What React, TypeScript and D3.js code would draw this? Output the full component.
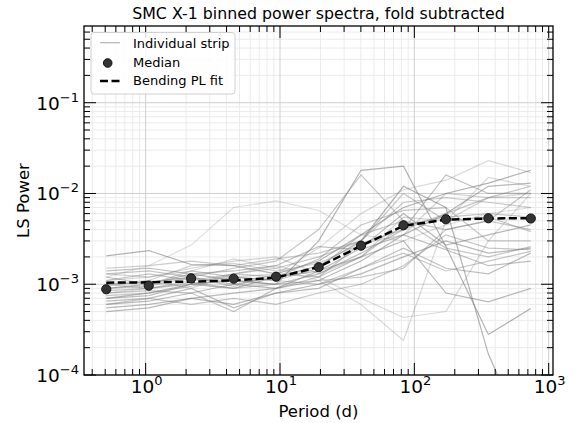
import React from "react";
import * as d3 from "d3";

const periods = [0.509, 1.054, 2.18, 4.52, 9.35, 19.4, 40.1, 83.0, 171.8, 355.6, 736];
const medianPower = [8.8e-4, 9.65e-4, 1.16e-3, 1.15e-3, 1.21e-3, 1.54e-3, 2.66e-3, 4.46e-3, 5.2e-3, 5.33e-3, 5.3e-3];
const fitPower = [1.04e-3, 1.05e-3, 1.07e-3, 1.1e-3, 1.18e-3, 1.55e-3, 2.65e-3, 4.4e-3, 5.15e-3, 5.3e-3, 5.35e-3];

const strips: number[][] = [
  [1.2e-3, 1.6e-3, 2.7e-3, 7.0e-3, 8.3e-3, 6.5e-3, 3.5e-3, 3.0e-3, 4.5e-3, 6e-3, 7e-3],
  [2.05e-3, 2.35e-3, 1.65e-3, 1.6e-3, 1.3e-3, 1.8e-3, 3.5e-3, 7e-3, 1.0e-2, 1.3e-2, 1.8e-2],
  [9e-4, 1.0e-3, 1.3e-3, 1.1e-3, 1.0e-3, 3e-3, 1.8e-2, 2.0e-2, 2.6e-3, 2.8e-4, 5.4e-4],
  [7e-4, 8e-4, 1.0e-3, 9e-4, 1.2e-3, 1.6e-3, 3e-3, 1.2e-2, 7e-3, 1.7e-4, 1.5e-5],
  [1.1e-3, 1.2e-3, 1.4e-3, 1.9e-3, 1.5e-3, 1.1e-3, 6e-4, 2.4e-4, 5e-3, 1.5e-2, 1.2e-2],
  [1.0e-3, 1.1e-3, 9e-4, 1.3e-3, 1.6e-3, 1.2e-3, 7e-4, 4.3e-4, 5e-4, 3e-3, 1.0e-2],
  [6e-4, 6.5e-4, 8e-4, 1.0e-3, 9e-4, 1.4e-3, 2e-3, 3e-3, 8e-4, 6.4e-4, 9e-4],
  [1.3e-3, 1.4e-3, 1.2e-3, 1.5e-3, 1.8e-3, 4e-3, 1.6e-2, 5e-3, 2.5e-3, 2e-3, 2.6e-3],
  [8e-4, 9e-4, 1.1e-3, 1.2e-3, 1.3e-3, 2.5e-3, 6e-3, 1.1e-2, 1.4e-2, 2.3e-2, 1.7e-2],
  [7e-4, 7.5e-4, 1.0e-3, 1.1e-3, 1.0e-3, 1.3e-3, 2.2e-3, 4e-3, 1.6e-2, 1.0e-2, 1.0e-2],
  [5e-4, 5.5e-4, 7e-4, 8e-4, 9e-4, 1.1e-3, 1.8e-3, 3.5e-3, 6e-3, 1.2e-2, 1.3e-2],
  [1.5e-3, 1.6e-3, 1.8e-3, 1.6e-3, 1.9e-3, 2.2e-3, 3e-3, 8e-3, 9e-3, 8e-3, 7e-3],
  [1.0e-3, 1.05e-3, 1.2e-3, 1.0e-3, 1.2e-3, 1.4e-3, 2.5e-3, 6e-3, 2.7e-3, 3.5e-3, 4.5e-3],
  [5.5e-4, 6e-4, 7e-4, 6e-4, 8e-4, 1.0e-3, 1.3e-3, 2e-3, 3e-3, 2.2e-3, 2.5e-3],
  [6.5e-4, 7e-4, 9e-4, 5.5e-4, 8e-4, 9e-4, 1.5e-3, 2.5e-3, 1.5e-3, 1.3e-3, 2.2e-3],
  [8e-4, 8.5e-4, 8e-4, 5e-4, 9e-4, 1.2e-3, 2e-3, 4.5e-3, 5.5e-3, 6e-3, 5.5e-3],
  [1.2e-3, 1.0e-3, 1.4e-3, 1.2e-3, 1.1e-3, 1.5e-3, 3.5e-3, 5e-3, 4e-3, 5e-3, 1.1e-2],
  [9.5e-4, 1.1e-3, 1.6e-3, 1.7e-3, 1.4e-3, 1.7e-3, 2.8e-3, 3.5e-3, 1.0e-2, 9e-3, 1.0e-2],
  [1.1e-3, 1.3e-3, 1.1e-3, 1.3e-3, 1.2e-3, 1.9e-3, 4.5e-3, 6.5e-3, 7e-3, 3e-3, 3e-3],
  [7.5e-4, 8e-4, 9.5e-4, 1.2e-3, 1.1e-3, 1.0e-3, 1.5e-3, 2.2e-3, 1.4e-3, 1.8e-3, 2.3e-3],
  [1.4e-3, 1.5e-3, 1.3e-3, 1.4e-3, 1.6e-3, 2.6e-3, 2.4e-3, 3.5e-3, 2.4e-3, 1.6e-3, 1.8e-3],
  [9e-4, 9.5e-4, 1.2e-3, 9.5e-4, 1.3e-3, 1.2e-3, 2.8e-3, 4e-3, 6e-3, 9e-3, 1.2e-2],
  [6e-4, 7e-4, 6e-4, 7e-4, 6e-4, 8e-4, 1.0e-3, 1.6e-3, 3.5e-3, 2.5e-3, 2.4e-3],
  [1.3e-3, 1.2e-3, 1.5e-3, 1.8e-3, 2e-3, 1.3e-3, 2e-3, 5.5e-3, 5e-3, 9e-3, 9e-3],
  [8.5e-4, 9e-4, 1.0e-3, 1.3e-3, 1.5e-3, 2e-3, 3e-3, 1.0e-2, 5e-3, 5.5e-3, 3.8e-3],
  [1.0e-3, 9e-4, 1.05e-3, 9e-4, 1.0e-3, 1.1e-3, 1.2e-3, 1.5e-3, 4e-3, 5e-3, 4e-3],
];
const stripAlpha = [0.25, 0.6, 0.6, 0.6, 0.3, 0.3, 0.55, 0.45, 0.3, 0.5, 0.55, 0.4, 0.55, 0.55, 0.5, 0.45, 0.45, 0.35, 0.45, 0.45, 0.5, 0.45, 0.45, 0.35, 0.45, 0.45];

const xMajor = [1, 10, 100, 1000];
const xMajorLabels = ["0", "1", "2", "3"];
const yMajor = [1e-4, 1e-3, 1e-2, 1e-1];
const yMajorLabels = ["−4", "−3", "−2", "−1"];

const title = "SMC X-1 binned power spectra, fold subtracted";
const xLabel = "Period (d)";
const yLabel = "LS Power";
const legendLabels = ["Individual strip", "Median", "Bending PL fit"];

const W = 575, H = 423;
const L = 84, R = 553, T = 26, B = 375;
const FONT = "DejaVu Sans, sans-serif";

export default function App() {
  const x = d3.scaleLog().domain([0.3475, 1077]).range([L, R]);
  const y = d3.scaleLog().domain([1e-4, 0.7]).range([B, T]);

  const line = d3.line<[number, number]>().x(d => x(d[0])).y(d => y(d[1]));

  const xMinor: number[] = [];
  for (let e = -1; e <= 3; e++) for (let m = 2; m <= 9; m++) {
    const v = m * Math.pow(10, e);
    if (v > 0.3475 && v < 1077) xMinor.push(v);
  }
  const yMinor: number[] = [];
  for (let e = -4; e <= -1; e++) for (let m = 2; m <= 9; m++) {
    const v = m * Math.pow(10, e);
    if (v > 1e-4 && v < 0.7) yMinor.push(v);
  }

  const majLen = 12, minLen = 6;

  return (
    <svg width={W} height={H} style={{ position: "absolute", left: 0, top: 0 }} fontFamily={FONT}>
      <rect x={0} y={0} width={W} height={H} fill="#fff" />
      <defs>
        <clipPath id="plot">
          <rect x={L} y={T} width={R - L} height={B - T} />
        </clipPath>
      </defs>
      {/* grid */}
      <g>
        {xMinor.map((v, i) => (
          <line key={"gxm" + i} x1={x(v)} x2={x(v)} y1={T} y2={B} stroke="#ebebeb" strokeWidth={1} />
        ))}
        {yMinor.map((v, i) => (
          <line key={"gym" + i} x1={L} x2={R} y1={y(v)} y2={y(v)} stroke="#ebebeb" strokeWidth={1} />
        ))}
        {xMajor.map((v, i) => (
          <line key={"gx" + i} x1={x(v)} x2={x(v)} y1={T} y2={B} stroke="#cfcfcf" strokeWidth={1} />
        ))}
        {yMajor.map((v, i) => (
          <line key={"gy" + i} x1={L} x2={R} y1={y(v)} y2={y(v)} stroke="#cfcfcf" strokeWidth={1} />
        ))}
      </g>
      {/* strips */}
      <g clipPath="url(#plot)">
        {strips.map((s, i) => (
          <path key={"s" + i} d={line(periods.map((p, j) => [p, s[j]] as [number, number])) || ""}
            fill="none" stroke="#808080" strokeOpacity={stripAlpha[i]} strokeWidth={1.2} />
        ))}
        <path d={line(periods.map((p, j) => [p, fitPower[j]] as [number, number])) || ""}
          fill="none" stroke="#000" strokeWidth={2.5} strokeDasharray="8,3.5" />
        {periods.map((p, j) => (
          <circle key={"m" + j} cx={x(p)} cy={y(medianPower[j])} r={4.6} fill="#333" stroke="#111" strokeWidth={1} />
        ))}
      </g>
      {/* frame */}
      <rect x={L} y={T} width={R - L} height={B - T} fill="none" stroke="#000" strokeWidth={1.3} />
      {/* ticks */}
      <g stroke="#000" strokeWidth={1}>
        {xMajor.filter(v => x(v) <= R).map((v, i) => (
          <g key={"tx" + i}>
            <line x1={x(v)} x2={x(v)} y1={B} y2={B - majLen} />
            <line x1={x(v)} x2={x(v)} y1={T} y2={T + majLen} />
          </g>
        ))}
        {xMinor.map((v, i) => (
          <g key={"txm" + i}>
            <line x1={x(v)} x2={x(v)} y1={B} y2={B - minLen} />
            <line x1={x(v)} x2={x(v)} y1={T} y2={T + minLen} />
          </g>
        ))}
        {yMajor.map((v, i) => (
          <g key={"ty" + i}>
            <line x1={L} x2={L + majLen} y1={y(v)} y2={y(v)} />
            <line x1={R} x2={R - majLen} y1={y(v)} y2={y(v)} />
          </g>
        ))}
        {yMinor.map((v, i) => (
          <g key={"tym" + i}>
            <line x1={L} x2={L + minLen} y1={y(v)} y2={y(v)} />
            <line x1={R} x2={R - minLen} y1={y(v)} y2={y(v)} />
          </g>
        ))}
      </g>
      {/* tick labels */}
      <g fill="#000">
        {xMajor.map((v, i) => (
          <text key={"lx" + i} x={x(v) + 1} y={393} textAnchor="middle" fontSize={18.5}>
            10<tspan dy={-8} fontSize={13}>{xMajorLabels[i]}</tspan>
          </text>
        ))}
        {yMajor.map((v, i) => (
          <text key={"ly" + i} x={79} y={y(v) + 7} textAnchor="end" fontSize={18.5}>
            10<tspan dy={-8} fontSize={13}>{yMajorLabels[i]}</tspan>
          </text>
        ))}
      </g>
      {/* labels */}
      <text x={(L + R) / 2} y={417} textAnchor="middle" fontSize={16.5}>{xLabel}</text>
      <text transform={`translate(29,${(T + B) / 2}) rotate(-90)`} textAnchor="middle" fontSize={16.5}>{yLabel}</text>
      <text x={(L + R) / 2} y={18.5} textAnchor="middle" fontSize={15.8}>{title}</text>
      {/* legend */}
      <g>
        <rect x={91} y={32.5} width={144} height={61.5} rx={3} fill="#fff" fillOpacity={0.85} stroke="#d0d0d0" strokeWidth={1} />
        <line x1={100} x2={120} y1={42.7} y2={42.7} stroke="#808080" strokeOpacity={0.6} strokeWidth={1.2} />
        <circle cx={107.7} cy={63} r={4.3} fill="#333" stroke="#111" strokeWidth={1} />
        <line x1={100} x2={120} y1={81} y2={81} stroke="#000" strokeWidth={2.5} strokeDasharray="8,3.5" />
        <text x={133} y={47.8} fontSize={13}>{legendLabels[0]}</text>
        <text x={133} y={66.5} fontSize={13}>{legendLabels[1]}</text>
        <text x={133} y={85} fontSize={13}>{legendLabels[2]}</text>
      </g>
    </svg>
  );
}
